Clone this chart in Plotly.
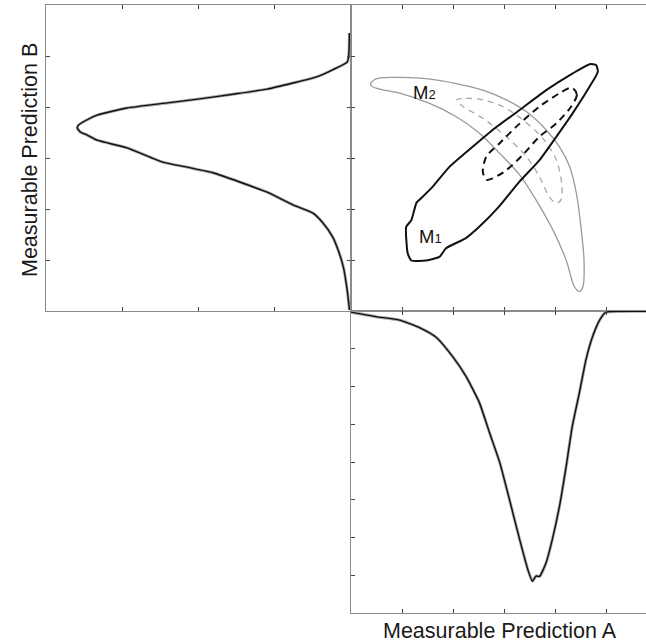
import plotly.graph_objects as go

# ---- marginal density of Prediction B (drawn leftwards from the shared axis) ----
b_values = [5.45, 5.0, 4.88, 4.73, 4.59, 4.47, 4.35, 4.25, 4.16, 4.08, 3.98, 3.84,
            3.75, 3.65, 3.59, 3.51, 3.45, 3.35, 3.20, 3.02, 2.92, 2.82, 2.71, 2.53,
            2.33, 2.08, 1.92, 1.73, 1.45, 1.20, 0.86, 0.41, 0.02]
b_density = [0.02, 0.03, 0.05, 0.24, 0.45, 0.76, 1.10, 1.55, 1.98, 2.41, 2.94, 3.33,
             3.46, 3.57, 3.59, 3.55, 3.46, 3.33, 2.94, 2.64, 2.47, 2.15, 1.81, 1.46,
             1.10, 0.76, 0.50, 0.37, 0.24, 0.17, 0.10, 0.05, 0.02]

# ---- marginal density of Prediction A (drawn downwards from the shared axis) ----
a_values = [0.0, 0.49, 0.95, 1.34, 1.67, 1.99, 2.25, 2.51, 2.71, 2.91, 3.10, 3.30,
            3.46, 3.55, 3.62, 3.69, 3.82, 3.94, 4.08, 4.21, 4.33, 4.47, 4.60, 4.73,
            4.87, 4.99, 5.3, 5.9]
a_density = [0.03, 0.15, 0.24, 0.44, 0.70, 1.21, 1.73, 2.42, 3.22, 4.01, 4.99, 6.05,
             6.85, 7.16, 7.02, 7.03, 6.66, 6.05, 5.17, 4.12, 3.06, 2.16, 1.28, 0.67,
             0.23, 0.03, 0.01, 0.01]

# ---- joint contours: model M1 (black) and model M2 (grey) ----
m1_outer_a = [1.28, 1.18, 1.08, 1.11, 1.18, 1.47, 1.73, 1.86, 2.25, 2.51, 2.90, 3.30,
              3.69, 4.02, 4.34, 4.67, 4.83, 4.80, 4.67, 4.34, 3.82, 3.30, 2.77, 2.38,
              1.93, 1.60, 1.34, 1.28]
m1_outer_b = [2.12, 1.78, 1.65, 1.13, 0.99, 0.99, 1.06, 1.23, 1.43, 1.65, 2.05, 2.54,
              2.96, 3.42, 3.88, 4.40, 4.69, 4.82, 4.84, 4.66, 4.33, 3.94, 3.55, 3.22,
              2.83, 2.44, 2.18, 2.12]
m1_inner_a = [4.34, 4.42, 4.31, 4.02, 3.69, 3.36, 3.04, 2.77, 2.65, 2.58, 2.65, 2.91,
              3.23, 3.69, 4.08, 4.27, 4.34]
m1_inner_b = [4.37, 4.24, 4.01, 3.68, 3.42, 3.06, 2.76, 2.60, 2.57, 2.73, 3.03, 3.29,
              3.61, 4.01, 4.27, 4.37, 4.37]

m2_outer_a = [0.38, 0.49, 0.82, 1.41, 2.06, 2.58, 3.04, 3.43, 3.82, 4.08, 4.28, 4.41,
              4.50, 4.56, 4.54, 4.47, 4.37, 4.21, 3.95, 3.62, 3.30, 2.91, 2.52, 2.06,
              1.54, 0.95, 0.56, 0.40, 0.38]
m2_outer_b = [4.46, 4.55, 4.58, 4.56, 4.46, 4.33, 4.14, 3.91, 3.55, 3.22, 2.83, 2.31,
              1.65, 1.00, 0.48, 0.38, 0.48, 1.00, 1.59, 2.18, 2.67, 3.09, 3.48, 3.81,
              4.07, 4.27, 4.35, 4.41, 4.46]
m2_inner_a = [2.06, 2.25, 2.58, 2.97, 3.36, 3.75, 4.02, 4.13, 4.11, 4.02, 3.88, 3.69,
              3.43, 3.04, 2.58, 2.19, 2.06]
m2_inner_b = [4.14, 4.17, 4.14, 4.01, 3.75, 3.39, 2.96, 2.44, 2.18, 2.11, 2.24, 2.63,
              3.03, 3.42, 3.78, 4.01, 4.14]

tick_b = [1, 2, 3, 4, 5]
tick_a = [1, 2, 3, 4, 5]
tick_b_density = [1, 2, 3]
tick_a_density = [1, 2, 3, 4, 5, 6, 7]

W, H = 646, 642
FONT = "Liberation Sans, Arial, Helvetica, sans-serif"


def px_x(p):
    return p / W


def px_y(p):
    return 1 - p / H


fig = go.Figure()

# marginal of B (top-left panel)
fig.add_trace(go.Scatter(x=b_density, y=b_values, mode="lines", xaxis="x", yaxis="y",
                         line=dict(color="#a8a8a8", width=3.0, shape="spline", smoothing=0.5),
                         hoverinfo="skip"))
fig.add_trace(go.Scatter(x=b_density, y=b_values, mode="lines", xaxis="x", yaxis="y",
                         line=dict(color="#111111", width=1.4, shape="spline", smoothing=0.5)))

# joint contours (top-right panel)
fig.add_trace(go.Scatter(x=m2_outer_a, y=m2_outer_b, mode="lines", xaxis="x2", yaxis="y2",
                         line=dict(color="#9a9a9a", width=1.3, shape="spline", smoothing=0.8)))
fig.add_trace(go.Scatter(x=m2_inner_a, y=m2_inner_b, mode="lines", xaxis="x2", yaxis="y2",
                         line=dict(color="#a8a8a8", width=1.3, dash="6px,5px",
                                   shape="spline", smoothing=0.8)))
fig.add_trace(go.Scatter(x=m1_outer_a, y=m1_outer_b, mode="lines", xaxis="x2", yaxis="y2",
                         line=dict(color="#111111", width=2.0, shape="spline", smoothing=0.5)))
fig.add_trace(go.Scatter(x=m1_inner_a, y=m1_inner_b, mode="lines", xaxis="x2", yaxis="y2",
                         line=dict(color="#111111", width=2.0, dash="7px,5px",
                                   shape="spline", smoothing=0.8)))

# marginal of A (bottom-right panel)
fig.add_trace(go.Scatter(x=a_values, y=a_density, mode="lines", xaxis="x3", yaxis="y3",
                         line=dict(color="#a8a8a8", width=3.0, shape="spline", smoothing=0.5),
                         hoverinfo="skip"))
fig.add_trace(go.Scatter(x=a_values, y=a_density, mode="lines", xaxis="x3", yaxis="y3",
                         line=dict(color="#111111", width=1.4, shape="spline", smoothing=0.5)))

axis_common = dict(showgrid=False, zeroline=False, showticklabels=False,
                   showline=True, linecolor="#8a8a8a", linewidth=1.2,
                   ticks="inside", ticklen=4, tickwidth=1.2, tickcolor="#444444")

x_left = [px_x(46), px_x(351)]
x_right = [px_x(351), 1.0]
y_top = [px_y(311), px_y(5)]
y_bottom = [px_y(613), px_y(311)]
a_span = (W - 351) / 51.1

fig.update_layout(
    width=W, height=H,
    margin=dict(l=0, r=0, t=0, b=0),
    paper_bgcolor="white", plot_bgcolor="white",
    showlegend=False,
    xaxis=dict(domain=x_left, range=[4.0, 0.0], tickvals=tick_b_density,
               anchor="y", mirror="ticks", **axis_common),
    yaxis=dict(domain=y_top, range=[0, 6], tickvals=tick_b,
               anchor="x", mirror="ticks", **axis_common),
    xaxis2=dict(domain=x_right, range=[0, a_span], tickvals=tick_a,
                anchor="y2", mirror="ticks", **axis_common),
    yaxis2=dict(domain=y_top, range=[0, 6], tickvals=tick_b,
                anchor="x2", **axis_common),
    xaxis3=dict(domain=x_right, range=[0, a_span], tickvals=tick_a,
                anchor="y3", mirror="ticks", **axis_common),
    yaxis3=dict(domain=y_bottom, range=[8, 0], tickvals=tick_a_density,
                anchor="x3", **axis_common),
    annotations=[
        dict(text="Measurable Prediction B", xref="paper", yref="paper",
             x=px_x(30), y=px_y(160), textangle=-90, showarrow=False,
             xanchor="center", yanchor="middle",
             font=dict(family=FONT, size=21.5, color="#1a1a1a")),
        dict(text="Measurable Prediction A", xref="paper", yref="paper",
             x=px_x(500), y=px_y(631), showarrow=False,
             xanchor="center", yanchor="middle",
             font=dict(family=FONT, size=21.5, color="#1a1a1a")),
        dict(text="M<span style='font-size:13px'>2</span>", xref="x2", yref="y2",
             x=1.44, y=4.29, showarrow=False, xanchor="center", yanchor="middle",
             font=dict(family=FONT, size=18.5, color="#111111")),
        dict(text="M<span style='font-size:13px'>1</span>", xref="x2", yref="y2",
             x=1.56, y=1.47, showarrow=False, xanchor="center", yanchor="middle",
             font=dict(family=FONT, size=18.5, color="#111111")),
    ],
)

fig.write_html("out.html")
